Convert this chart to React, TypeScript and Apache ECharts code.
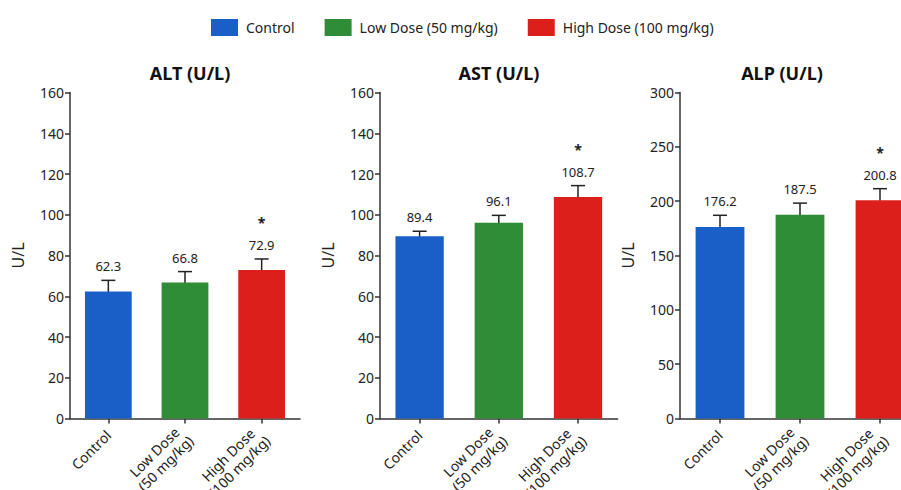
import React, { useEffect, useRef } from "react";
import * as echarts from "echarts";

const categories = ["Control", "Low Dose\n(50 mg/kg)", "High Dose\n(100 mg/kg)"];
const groupNames = ["Control", "Low Dose (50 mg/kg)", "High Dose (100 mg/kg)"];
const groupColors = ["#1a5fc8", "#2f8c37", "#dc1f1a"];

const panelTitles = ["ALT (U/L)", "AST (U/L)", "ALP (U/L)"];
const altMean = [62.3, 66.8, 72.9];
const altSd = [5.5, 5.3, 5.4];
const astMean = [89.4, 96.1, 108.7];
const astSd = [2.5, 3.6, 5.6];
const alpMean = [176.2, 187.5, 200.8];
const alpSd = [10.8, 10.7, 10.7];
const significant = [false, false, true];
const yMaxes = [160, 160, 300];
const yIntervals = [20, 20, 50];

const FONT = "Noto Sans";

const grids = [
  { left: 70, top: 92.5, width: 230, height: 326, outerBoundsMode: "none", containLabel: false },
  { left: 380, top: 92.5, width: 237.6, height: 326, outerBoundsMode: "none", containLabel: false },
  { left: 680, top: 92.5, width: 240, height: 326, outerBoundsMode: "none", containLabel: false },
];
const titleX = [190, 499, 782];

export default function App() {
  const ref = useRef<HTMLDivElement>(null);
  useEffect(() => {
    if (!ref.current) return;
    const chart = echarts.init(ref.current, undefined, { renderer: "svg" });
    const means = [altMean, astMean, alpMean];
    const sds = [altSd, astSd, alpSd];

    const series: any[] = [];
    means.forEach((m, p) => {
      groupNames.forEach((name, g) => {
        series.push({
          type: "bar",
          name,
          xAxisIndex: p,
          yAxisIndex: p,
          stack: "panel" + p,
          barWidth: "61%",
          itemStyle: { color: groupColors[g] },
          data: m.map((v, i) => (i === g ? v : "-")),
        });
      });
      series.push({
        type: "custom",
        xAxisIndex: p,
        yAxisIndex: p,
        silent: true,
        data: m.map((v, i) => [i, v - sds[p][i], v + sds[p][i], v, significant[i] ? 1 : 0]),
        encode: { x: 0, y: [1, 2] },
        renderItem: (params: any, api: any) => {
          const x = api.value(0);
          const lo = api.value(1);
          const hi = api.value(2);
          const mean = api.value(3);
          const sig = api.value(4);
          const top = api.coord([x, hi]);
          const bot = api.coord([x, lo]);
          const cap = 7;
          const st = { stroke: "#222", lineWidth: 1.5 };
          const children: any[] = [
            { type: "line", shape: { x1: top[0], y1: top[1], x2: bot[0], y2: bot[1] }, style: st },
            { type: "line", shape: { x1: top[0] - cap, y1: top[1], x2: top[0] + cap, y2: top[1] }, style: st },
            { type: "line", shape: { x1: bot[0] - cap, y1: bot[1], x2: bot[0] + cap, y2: bot[1] }, style: st },
            {
              type: "text",
              style: {
                text: Number(mean).toFixed(1),
                x: top[0],
                y: top[1] - 14,
                align: "center",
                verticalAlign: "middle",
                fontSize: 13,
                fontFamily: FONT,
                fill: "#222",
              },
            },
          ];
          if (sig) {
            children.push({
              type: "text",
              style: {
                text: "*",
                x: top[0],
                y: top[1] - 29,
                align: "center",
                verticalAlign: "bottom",
                fontSize: 14,
                fontWeight: "bold",
                fontFamily: FONT,
                fill: "#222",
              },
            });
          }
          return { type: "group", children };
        },
      });
    });

    const axisLine = { show: true, lineStyle: { color: "#333", width: 1.5 } };
    const option: any = {
      animation: false,
      backgroundColor: "#ffffff",
      textStyle: { fontFamily: FONT },
      legend: {
        data: groupNames,
        left: 206,
        top: 14,
        itemWidth: 27,
        itemHeight: 17,
        itemGap: 30,
        icon: "rect",
        textStyle: { fontSize: 14, color: "#222", fontFamily: FONT, padding: [0, 0, 0, 3] },
      },
      grid: grids,
      graphic: panelTitles.map((t, i) => ({
        type: "text",
        x: titleX[i],
        y: 73,
        style: {
          text: t,
          align: "center",
          verticalAlign: "middle",
          fontSize: 18,
          fontWeight: "bold",
          fontFamily: FONT,
          fill: "#111",
        },
      })),
      xAxis: grids.map((_, p) => ({
        type: "category",
        gridIndex: p,
        data: categories,
        axisLine,
        axisTick: { show: true, alignWithLabel: true, length: 5, lineStyle: { color: "#333", width: 1.5 } },
        axisLabel: {
          rotate: 45,
          interval: 0,
          margin: 14,
          formatter: (v: string) => v.split("\n").map((l) => `{c|${l}}`).join("\n"),
          rich: {
            c: { align: "center", fontSize: 14, color: "#222", fontFamily: FONT, lineHeight: 16 },
          },
        },
      })),
      yAxis: grids.map((_, p) => ({
        type: "value",
        gridIndex: p,
        min: 0,
        max: yMaxes[p],
        interval: yIntervals[p],
        axisLine,
        axisTick: { show: true, length: 5, lineStyle: { color: "#333", width: 1.5 } },
        splitLine: { show: false },
        axisLabel: { fontSize: 14, color: "#222", margin: 6, fontFamily: FONT },
        name: "U/L",
        nameLocation: "middle",
        nameGap: 44,
        nameTextStyle: { fontSize: 16, color: "#222", fontFamily: FONT },
      })),
      series,
    };
    chart.setOption(option);
    return () => chart.dispose();
  }, []);
  return <div ref={ref} style={{ position: "fixed", left: 0, top: 0, width: 901, height: 490 }} />;
}
